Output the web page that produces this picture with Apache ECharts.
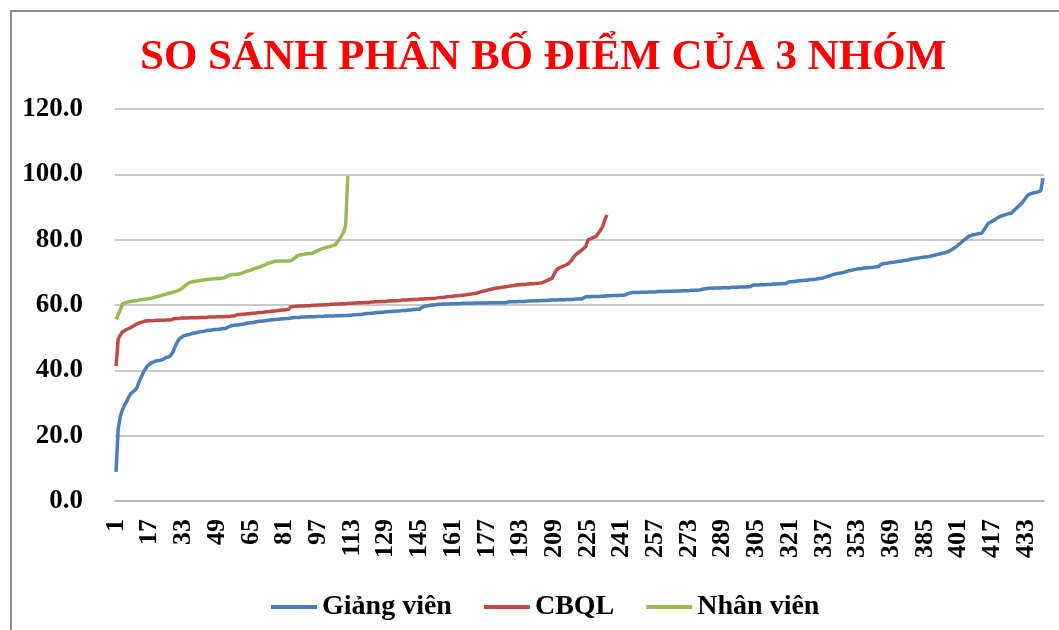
<!DOCTYPE html>
<html>
<head>
<meta charset="utf-8">
<script src="https://cdn.jsdelivr.net/npm/echarts@6/dist/echarts.min.js"></script>
<style>
  html, body { margin: 0; padding: 0; background: #fff; }
  #chart { width: 1059px; height: 630px; }
</style>
</head>
<body>
<div id="chart"></div>
<script>
// điểm đã sắp xếp tăng dần của từng nhóm
const giangVien = [
  8.9, 22.0, 25.8, 27.9, 29.3, 30.4, 31.8, 32.9, 33.4, 33.9,
  34.8, 36.6, 38.0, 39.4, 40.5, 41.4, 41.9, 42.4, 42.6, 42.9,
  43.0, 43.1, 43.3, 43.6, 44.0, 44.1, 44.6, 45.6, 47.2, 48.6,
  49.6, 50.1, 50.5, 50.7, 50.9, 51.0, 51.3, 51.4, 51.5, 51.7,
  51.8, 51.9, 52.0, 52.2, 52.3, 52.3, 52.4, 52.5, 52.5, 52.6,
  52.7, 52.8, 52.8, 53.2, 53.5, 53.7, 53.8, 53.9, 53.9, 54.0,
  54.1, 54.2, 54.4, 54.5, 54.6, 54.6, 54.8, 54.9, 55.0, 55.0,
  55.1, 55.2, 55.3, 55.4, 55.5, 55.5, 55.6, 55.6, 55.7, 55.8,
  55.8, 55.9, 55.9, 56.0, 56.1, 56.2, 56.2, 56.2, 56.3, 56.3,
  56.3, 56.4, 56.4, 56.4, 56.4, 56.5, 56.5, 56.5, 56.5, 56.6,
  56.6, 56.6, 56.6, 56.6, 56.7, 56.7, 56.7, 56.7, 56.8, 56.8,
  56.8, 56.9, 56.9, 57.0, 57.0, 57.1, 57.1, 57.2, 57.3, 57.4,
  57.4, 57.5, 57.5, 57.6, 57.7, 57.7, 57.8, 57.8, 57.9, 57.9,
  58.0, 58.0, 58.1, 58.1, 58.2, 58.2, 58.3, 58.3, 58.4, 58.5,
  58.5, 58.6, 58.6, 58.7, 58.7, 59.2, 59.5, 59.7, 59.8, 59.9,
  60.0, 60.0, 60.1, 60.2, 60.2, 60.3, 60.3, 60.3, 60.3, 60.4,
  60.4, 60.4, 60.4, 60.4, 60.5, 60.5, 60.5, 60.5, 60.5, 60.5,
  60.6, 60.6, 60.6, 60.6, 60.6, 60.6, 60.6, 60.7, 60.7, 60.7,
  60.7, 60.7, 60.7, 60.7, 60.7, 60.7, 60.9, 61.0, 61.0, 61.0,
  61.0, 61.1, 61.1, 61.1, 61.1, 61.2, 61.2, 61.2, 61.3, 61.3,
  61.3, 61.3, 61.4, 61.4, 61.4, 61.4, 61.5, 61.5, 61.5, 61.5,
  61.6, 61.6, 61.6, 61.6, 61.7, 61.7, 61.7, 61.7, 61.8, 61.8,
  61.8, 61.8, 62.2, 62.5, 62.5, 62.5, 62.6, 62.6, 62.6, 62.6,
  62.7, 62.7, 62.7, 62.8, 62.8, 62.8, 62.9, 62.9, 62.9, 63.0,
  63.0, 63.0, 63.1, 63.5, 63.7, 63.8, 63.8, 63.8, 63.8, 63.9,
  63.9, 63.9, 63.9, 64.0, 64.0, 64.0, 64.0, 64.1, 64.1, 64.1,
  64.1, 64.2, 64.2, 64.2, 64.2, 64.3, 64.3, 64.3, 64.3, 64.4,
  64.4, 64.4, 64.4, 64.5, 64.5, 64.5, 64.5, 64.6, 64.8, 64.9,
  65.0, 65.1, 65.1, 65.1, 65.2, 65.2, 65.2, 65.2, 65.3, 65.3,
  65.3, 65.3, 65.4, 65.4, 65.4, 65.4, 65.5, 65.5, 65.5, 65.5,
  65.6, 65.6, 66.0, 66.1, 66.1, 66.1, 66.2, 66.2, 66.2, 66.3,
  66.3, 66.3, 66.4, 66.4, 66.4, 66.5, 66.5, 66.6, 66.6, 67.0,
  67.1, 67.1, 67.2, 67.3, 67.4, 67.4, 67.5, 67.6, 67.6, 67.7,
  67.8, 67.8, 67.9, 68.0, 68.1, 68.2, 68.4, 68.6, 68.8, 69.0,
  69.2, 69.4, 69.6, 69.7, 69.8, 69.9, 70.1, 70.3, 70.5, 70.6,
  70.8, 70.9, 71.0, 71.1, 71.2, 71.3, 71.3, 71.4, 71.5, 71.5,
  71.6, 71.7, 71.7, 72.4, 72.6, 72.7, 72.8, 72.9, 73.0, 73.1,
  73.2, 73.3, 73.4, 73.5, 73.6, 73.7, 73.8, 74.0, 74.1, 74.2,
  74.3, 74.4, 74.5, 74.6, 74.7, 74.8, 74.8, 75.0, 75.2, 75.3,
  75.5, 75.6, 75.8, 75.9, 76.1, 76.3, 76.7, 77.1, 77.5, 77.9,
  78.5, 79.0, 79.6, 80.1, 80.6, 81.1, 81.3, 81.5, 81.6, 81.8,
  81.9, 82.0, 83.0, 84.0, 85.0, 85.3, 85.7, 86.1, 86.5, 86.9,
  87.2, 87.4, 87.6, 87.8, 88.0, 88.1, 88.8, 89.4, 90.0, 90.6,
  91.2, 92.0, 93.0, 93.7, 94.0, 94.2, 94.4, 94.5, 94.7, 95.0,
  98.8
]

const cbql = [
  41.3, 49.5, 50.8, 51.8, 52.1, 52.5, 52.8, 53.1, 53.5, 53.9,
  54.2, 54.5, 54.7, 54.9, 55.1, 55.2, 55.2, 55.2, 55.2, 55.3,
  55.3, 55.3, 55.3, 55.3, 55.4, 55.4, 55.4, 55.7, 55.9, 55.9,
  55.9, 56.0, 56.0, 56.0, 56.0, 56.1, 56.1, 56.1, 56.1, 56.1,
  56.2, 56.2, 56.2, 56.2, 56.3, 56.3, 56.3, 56.3, 56.4, 56.4,
  56.4, 56.4, 56.5, 56.5, 56.5, 56.6, 56.6, 56.9, 57.1, 57.1,
  57.2, 57.2, 57.3, 57.3, 57.4, 57.5, 57.5, 57.6, 57.7, 57.7,
  57.8, 57.9, 57.9, 58.0, 58.1, 58.2, 58.2, 58.3, 58.4, 58.5,
  58.5, 58.6, 58.7, 59.5, 59.5, 59.6, 59.6, 59.7, 59.7, 59.7,
  59.8, 59.8, 59.8, 59.9, 59.9, 59.9, 60.0, 60.0, 60.0, 60.1,
  60.1, 60.1, 60.2, 60.2, 60.3, 60.3, 60.3, 60.4, 60.4, 60.4,
  60.5, 60.5, 60.5, 60.6, 60.6, 60.7, 60.7, 60.7, 60.8, 60.8,
  60.8, 60.9, 60.9, 61.0, 61.0, 61.0, 61.1, 61.1, 61.1, 61.2,
  61.2, 61.3, 61.3, 61.3, 61.4, 61.4, 61.5, 61.5, 61.5, 61.6,
  61.6, 61.7, 61.7, 61.7, 61.8, 61.8, 61.8, 61.9, 61.9, 62.0,
  62.0, 62.0, 62.1, 62.2, 62.3, 62.3, 62.4, 62.5, 62.6, 62.6,
  62.7, 62.8, 62.8, 62.9, 63.0, 63.0, 63.1, 63.2, 63.3, 63.4,
  63.5, 63.6, 63.8, 64.0, 64.2, 64.3, 64.5, 64.7, 64.8, 65.0,
  65.1, 65.2, 65.3, 65.4, 65.5, 65.6, 65.7, 65.8, 65.9, 66.0,
  66.1, 66.2, 66.2, 66.3, 66.3, 66.4, 66.4, 66.5, 66.5, 66.6,
  66.6, 66.7, 66.8, 67.0, 67.3, 67.6, 67.9, 68.2, 69.5, 70.7,
  71.2, 71.5, 71.8, 72.1, 72.4, 72.8, 73.5, 74.5, 75.3, 75.8,
  76.3, 76.8, 77.3, 77.9, 79.9, 80.2, 80.5, 80.8, 81.1, 82.0,
  83.0, 84.0, 86.0, 87.6
]

const nhanVien = [
  55.6, 57.0, 58.5, 60.3, 60.6, 60.8, 61.0, 61.1, 61.2, 61.3,
  61.4, 61.5, 61.6, 61.7, 61.8, 61.9, 62.0, 62.1, 62.3, 62.5,
  62.6, 62.8, 63.0, 63.2, 63.4, 63.5, 63.7, 63.9, 64.1, 64.3,
  64.6, 65.0, 65.5, 66.0, 66.5, 66.9, 67.1, 67.2, 67.3, 67.4,
  67.5, 67.6, 67.7, 67.8, 67.9, 67.9, 68.0, 68.0, 68.1, 68.1,
  68.2, 68.3, 68.4, 69.0, 69.2, 69.3, 69.3, 69.4, 69.4, 69.6,
  69.8, 70.1, 70.3, 70.5, 70.7, 71.0, 71.2, 71.4, 71.6, 71.9,
  72.1, 72.4, 72.7, 72.9, 73.1, 73.3, 73.5, 73.5, 73.5, 73.5,
  73.5, 73.5, 73.5, 73.6, 74.0, 74.5, 75.0, 75.3, 75.4, 75.5,
  75.6, 75.7, 75.8, 75.8, 76.1, 76.4, 76.7, 77.0, 77.3, 77.5,
  77.7, 77.8, 78.0, 78.2, 78.4, 79.3, 80.0, 81.3, 82.2, 84.5,
  99.5
]

// trục x: số thứ tự 1..441
const categories = Array.from({ length: giangVien.length }, (_, i) => String(i + 1))

const seriesNames = ['Giảng viên', 'CBQL', 'Nhân viên']
const seriesColors = ['#4a7ebb', '#be4b48', '#98b954']

const serif = '"Liberation Serif", "Times New Roman", serif'

const chart = echarts.init(document.getElementById('chart'))

chart.setOption({
  animation: false,
  color: seriesColors,
  title: {
    text: 'SO SÁNH PHÂN BỐ ĐIỂM CỦA 3 NHÓM',
    left: 135,
    top: 31,
    textStyle: { color: '#ff0000', fontFamily: serif, fontWeight: 'bold', fontSize: 43 }
  },
  graphic: [{
    type: 'rect',
    shape: { x: 11, y: 11, width: 1200, height: 800 },
    style: { fill: 'none', stroke: '#8c8c8c', lineWidth: 2 }
  }],
  legend: {
    top: 588,
    left: 266,
    icon: 'rect',
    itemWidth: 46,
    itemHeight: 4,
    itemGap: 32,
    textStyle: { fontFamily: serif, fontWeight: 'bold', fontSize: 28, color: '#000' },
    data: seriesNames
  },
  grid: { left: 115, right: 15, top: 109, bottom: 129 },
  xAxis: {
    type: 'category',
    data: categories,
    boundaryGap: true,
    axisLine: { lineStyle: { color: '#b0b0b0', width: 1.5 } },
    axisTick: { show: false },
    axisLabel: {
      interval: 15,
      rotate: 90,
      margin: 18,
      fontFamily: serif,
      fontWeight: 'bold',
      fontSize: 26,
      color: '#000'
    }
  },
  yAxis: {
    type: 'value',
    min: 0,
    max: 120,
    interval: 20,
    axisLine: { show: false },
    axisTick: { show: false },
    splitLine: { lineStyle: { color: '#b8b8b8', width: 1.5 } },
    axisLabel: {
      margin: 32,
      formatter: (v) => v.toFixed(1),
      fontFamily: serif,
      fontWeight: 'bold',
      fontSize: 27,
      color: '#000'
    }
  },
  series: [giangVien, cbql, nhanVien].map((data, i) => ({
    name: seriesNames[i],
    type: 'line',
    data: data,
    showSymbol: false,
    symbol: 'none',
    lineStyle: { width: 3.5 }
  }))
})
</script>
</body>
</html>
